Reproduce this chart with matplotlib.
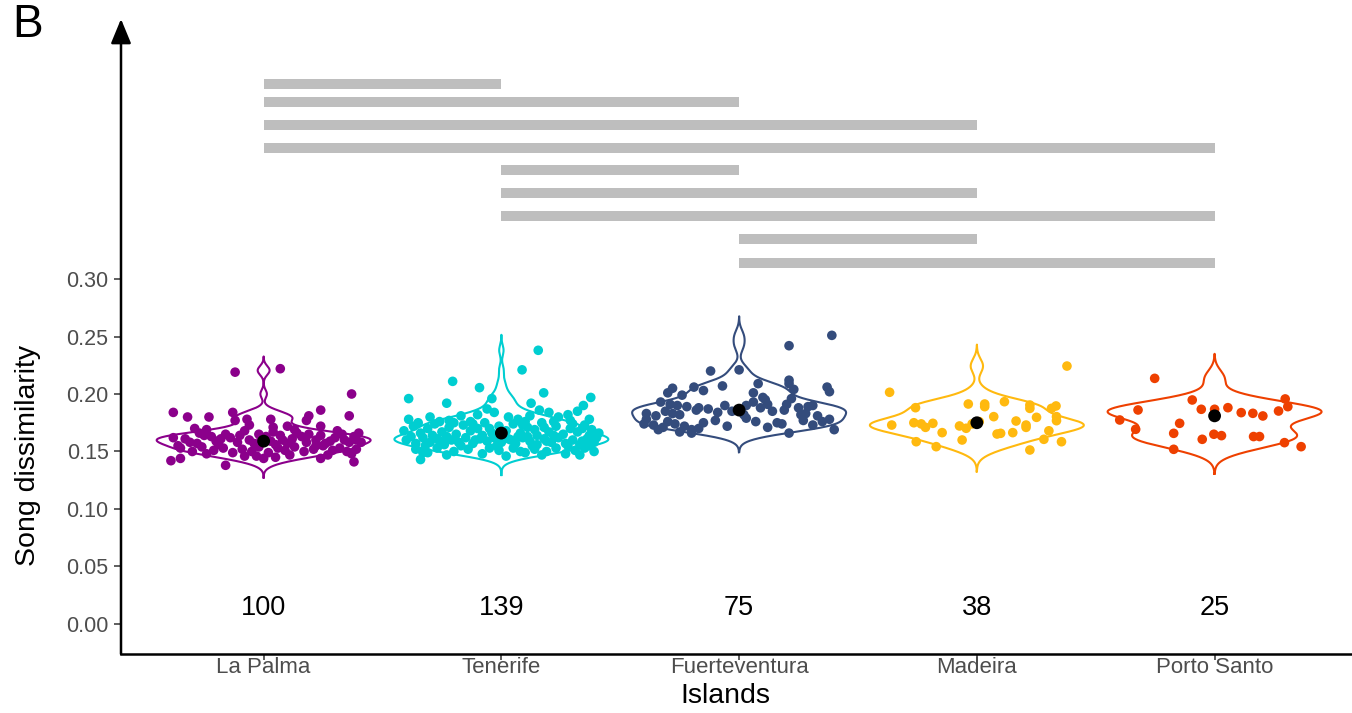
import numpy as np
import matplotlib
matplotlib.use("Agg")
import matplotlib.pyplot as plt

plt.rcParams['font.family'] = ['Liberation Sans', 'DejaVu Sans']

islands = ["La Palma", "Tenerife", "Fuerteventura", "Madeira", "Porto Santo"]
colors = ["#8B008B", "#00CED1", "#344C7C", "#FFB90F", "#EE4000"]
counts = [100, 139, 75, 38, 25]
group_means = [0.159, 0.166, 0.186, 0.175, 0.181]

# each song: (horizontal jitter, song dissimilarity)
la_palma = [
    (-0.12, 0.219), (0.07, 0.222), (0.37, 0.200), (0.36, 0.181), (-0.38, 0.184),
    (-0.32, 0.180), (-0.23, 0.180), (-0.13, 0.184), (0.24, 0.186), (0.19, 0.181),
    (0.18, 0.177), (0.24, 0.172), (-0.07, 0.178), (0.03, 0.178), (0.10, 0.172),
    (-0.12, 0.177), (-0.06, 0.173), (0.04, 0.171), (-0.24, 0.169), (0.40, 0.166),
    (-0.38, 0.162), (-0.33, 0.161), (-0.28, 0.157), (-0.25, 0.164), (-0.22, 0.163),
    (-0.18, 0.161), (-0.14, 0.162), (-0.10, 0.164), (-0.06, 0.160), (-0.02, 0.165),
    (0.01, 0.163), (0.04, 0.167), (0.08, 0.160), (0.12, 0.161), (0.16, 0.163),
    (0.19, 0.165), (0.22, 0.160), (0.26, 0.157), (0.30, 0.162), (0.34, 0.160),
    (0.38, 0.163), (0.41, 0.158), (-0.36, 0.155), (-0.31, 0.158), (-0.27, 0.166),
    (-0.20, 0.159), (-0.16, 0.165), (-0.11, 0.158), (-0.04, 0.157), (0.03, 0.159),
    (0.07, 0.164), (0.10, 0.157), (0.14, 0.166), (0.18, 0.158), (0.24, 0.164),
    (0.28, 0.159), (0.33, 0.165), (0.36, 0.158), (0.39, 0.160), (-0.01, 0.161),
    (-0.35, 0.153), (-0.30, 0.150), (-0.26, 0.154), (-0.21, 0.151), (-0.17, 0.153),
    (-0.13, 0.149), (-0.09, 0.152), (-0.05, 0.150), (-0.02, 0.154), (0.02, 0.149),
    (0.06, 0.153), (0.09, 0.151), (0.13, 0.154), (0.17, 0.150), (0.21, 0.152),
    (0.25, 0.155), (0.29, 0.151), (0.32, 0.153), (0.35, 0.150), (0.39, 0.152),
    (-0.03, 0.146), (0.11, 0.147), (0.27, 0.147), (0.37, 0.148), (-0.24, 0.148),
    (0.00, 0.144), (-0.39, 0.142), (-0.35, 0.144), (-0.16, 0.138), (0.24, 0.144),
    (0.38, 0.141), (0.05, 0.145), (-0.08, 0.146), (-0.29, 0.170), (0.13, 0.169),
    (0.31, 0.168), (-0.08, 0.168), (0.22, 0.155), (-0.19, 0.156), (0.05, 0.156),
]

tenerife = [
    (0.155, 0.238), (0.087, 0.221), (-0.205, 0.211), (-0.092, 0.2055), (-0.39, 0.196),
    (-0.23, 0.192), (0.178, 0.201), (0.376, 0.197), (0.345, 0.190), (-0.34, 0.143),
    (0.125, 0.192), (-0.04, 0.196),
    (-0.39, 0.178), (-0.30, 0.180), (-0.22, 0.177), (-0.17, 0.181), (-0.10, 0.182),
    (-0.06, 0.187), (-0.03, 0.184), (0.03, 0.180), (0.07, 0.178), (0.12, 0.181),
    (0.16, 0.186), (0.20, 0.184), (0.24, 0.180), (0.28, 0.182), (0.32, 0.185),
    (0.37, 0.178), (-0.26, 0.176), (0.10, 0.176), (-0.13, 0.176), (0.29, 0.177),
    (-0.41, 0.168), (-0.37, 0.172), (-0.34, 0.166), (-0.31, 0.170), (-0.28, 0.174),
    (-0.25, 0.167), (-0.22, 0.171), (-0.19, 0.165), (-0.16, 0.173), (-0.13, 0.168),
    (-0.10, 0.170), (-0.07, 0.175), (-0.04, 0.166), (-0.01, 0.172), (0.02, 0.168),
    (0.05, 0.174), (0.08, 0.166), (0.11, 0.171), (0.14, 0.169), (0.17, 0.175),
    (0.20, 0.167), (0.23, 0.172), (0.26, 0.165), (0.29, 0.170), (0.32, 0.167),
    (0.35, 0.173), (0.38, 0.169), (0.41, 0.166), (-0.35, 0.175), (-0.20, 0.175),
    (-0.05, 0.170), (0.09, 0.173), (0.22, 0.176), (0.34, 0.170), (-0.29, 0.164),
    (0.00, 0.164), (0.15, 0.164), (0.30, 0.174), (-0.12, 0.174), (0.18, 0.171),
    (-0.40, 0.160), (-0.36, 0.157), (-0.33, 0.162), (-0.30, 0.158), (-0.27, 0.161),
    (-0.24, 0.156), (-0.21, 0.160), (-0.18, 0.158), (-0.15, 0.162), (-0.12, 0.157),
    (-0.09, 0.161), (-0.06, 0.159), (-0.03, 0.162), (0.00, 0.158), (0.03, 0.161),
    (0.06, 0.157), (0.09, 0.162), (0.12, 0.159), (0.15, 0.156), (0.18, 0.161),
    (0.21, 0.158), (0.24, 0.162), (0.27, 0.157), (0.30, 0.160), (0.33, 0.156),
    (0.36, 0.161), (0.39, 0.158), (-0.38, 0.163), (-0.23, 0.163), (-0.08, 0.164),
    (0.07, 0.163), (0.22, 0.164), (0.37, 0.164), (-0.32, 0.155), (-0.17, 0.155),
    (-0.02, 0.155), (0.13, 0.155), (0.28, 0.155), (0.40, 0.162), (-0.26, 0.159),
    (-0.11, 0.160), (0.04, 0.160), (0.19, 0.159), (0.34, 0.159), (0.11, 0.163),
    (-0.36, 0.152), (-0.31, 0.149), (-0.27, 0.153), (-0.20, 0.150), (-0.14, 0.152),
    (-0.08, 0.148), (-0.01, 0.151), (0.05, 0.153), (0.10, 0.149), (0.14, 0.152),
    (0.19, 0.150), (0.23, 0.153), (0.27, 0.148), (0.31, 0.151), (0.35, 0.153),
    (0.39, 0.150), (-0.23, 0.147), (0.02, 0.146), (0.17, 0.147), (0.33, 0.147),
    (0.37, 0.155), (-0.05, 0.153), (-0.33, 0.149), (0.08, 0.150),
]

fuerteventura = [
    (0.39, 0.251), (0.21, 0.242), (-0.12, 0.220), (0.00, 0.221), (-0.07, 0.207),
    (0.21, 0.212), (0.21, 0.209), (0.37, 0.206), (0.38, 0.202), (-0.19, 0.206),
    (-0.28, 0.205), (-0.24, 0.199), (-0.15, 0.203), (-0.30, 0.201), (-0.33, 0.193),
    (0.08, 0.209), (0.06, 0.201), (0.10, 0.197), (0.23, 0.204), (0.22, 0.196),
    (0.11, 0.195), (0.06, 0.193), (0.03, 0.190), (0.20, 0.191), (0.25, 0.188),
    (0.29, 0.189), (0.31, 0.190), (0.19, 0.186), (-0.06, 0.190), (-0.17, 0.188),
    (-0.13, 0.187), (-0.18, 0.186), (-0.22, 0.189), (-0.26, 0.190), (-0.29, 0.191),
    (-0.31, 0.185), (-0.28, 0.183), (-0.25, 0.182), (-0.39, 0.183), (0.33, 0.181),
    (0.38, 0.178), (0.28, 0.183), (0.26, 0.182), (0.14, 0.185), (0.09, 0.188),
    (0.12, 0.191), (-0.03, 0.185), (-0.09, 0.184), (0.02, 0.182), (-0.35, 0.181),
    (-0.39, 0.178), (-0.40, 0.174), (-0.34, 0.169), (-0.20, 0.169), (-0.20, 0.166),
    (-0.23, 0.172), (-0.10, 0.177), (0.03, 0.179), (0.16, 0.175), (0.18, 0.174),
    (0.21, 0.166), (0.40, 0.169), (-0.30, 0.176), (-0.27, 0.174), (-0.32, 0.171),
    (-0.15, 0.175), (-0.05, 0.172), (0.07, 0.176), (0.12, 0.171), (0.27, 0.177),
    (0.31, 0.173), (0.35, 0.176), (-0.36, 0.173), (-0.25, 0.167), (-0.17, 0.170),
]

madeira = [
    (0.379, 0.2243), (-0.367, 0.2015), (-0.258, 0.1881), (-0.036, 0.1913), (0.033, 0.1913),
    (0.033, 0.1890), (0.116, 0.1933), (0.223, 0.1904), (0.223, 0.1875), (0.314, 0.1875),
    (0.333, 0.1896), (0.335, 0.1803), (0.335, 0.1768), (0.251, 0.1797), (0.071, 0.1803),
    (0.165, 0.1765), (0.207, 0.1730), (0.207, 0.1710), (0.303, 0.1680), (-0.358, 0.1730),
    (-0.265, 0.1750), (-0.234, 0.1740), (-0.216, 0.1710), (-0.185, 0.1745), (-0.146, 0.1664),
    (-0.073, 0.1722), (-0.045, 0.1702), (-0.062, 0.1600), (0.085, 0.1652), (0.100, 0.1658),
    (0.151, 0.1664), (-0.255, 0.1585), (-0.171, 0.1542), (0.282, 0.1606), (0.356, 0.1585),
    (0.223, 0.1513), (0.010, 0.1760), (-0.020, 0.1740),
]

porto_santo = [
    (-0.252, 0.2136), (-0.094, 0.1948), (-0.322, 0.1861), (-0.399, 0.1774), (-0.056, 0.1867),
    (0.000, 0.1867), (0.056, 0.1881), (0.112, 0.1838), (0.161, 0.1832), (0.203, 0.1809),
    (0.269, 0.1852), (0.297, 0.1957), (0.308, 0.1890), (-0.332, 0.1693), (-0.147, 0.1745),
    (-0.172, 0.1658), (-0.052, 0.1606), (-0.003, 0.1650), (0.029, 0.1638), (0.164, 0.1630),
    (0.189, 0.1630), (-0.172, 0.1519), (0.294, 0.1577), (0.364, 0.1542), (0.000, 0.1810),
]

groups = [la_palma, tenerife, fuerteventura, madeira, porto_santo]

# pairwise comparisons drawn as grey bars above the violins
comp_pairs = [(1, 2), (1, 3), (1, 4), (1, 5), (2, 3), (2, 4), (2, 5), (3, 4), (3, 5)]
comp_y = [0.470, 0.4535, 0.434, 0.414, 0.395, 0.375, 0.355, 0.335, 0.314]


def nrd0(v):
    sd = np.std(v, ddof=1)
    q75, q25 = np.percentile(v, [75, 25])
    lo = min(sd, (q75 - q25) / 1.34)
    return 0.9 * lo * len(v) ** -0.2


def violin_outline(v, width=0.9):
    bw = nrd0(v)
    grid = np.linspace(v.min() - 3 * bw, v.max() + 3 * bw, 512)
    dens = np.exp(-0.5 * ((grid[:, None] - v[None, :]) / bw) ** 2).sum(axis=1)
    half = dens / dens.max() * width / 2
    return grid, half


fig = plt.figure(figsize=(13.52, 7.13), dpi=100)
ax = fig.add_axes([121 / 1352, 59 / 713, 1231 / 1352, 635 / 713])

for i, (pts, col) in enumerate(zip(groups, colors)):
    pos = i + 1
    arr = np.array(pts)
    dx, y = arr[:, 0], arr[:, 1]
    grid, half = violin_outline(y)
    ax.plot(np.concatenate([pos - half, (pos + half)[::-1], [pos - half[0]]]),
            np.concatenate([grid, grid[::-1], [grid[0]]]),
            color=col, lw=1.5, zorder=2)
    ax.scatter(pos + dx, y, s=48, color=col, edgecolors='none', zorder=3)
    ax.scatter([pos], [group_means[i]], s=85, color='black', edgecolors='none', zorder=4)
    ax.text(pos, 0.014, str(counts[i]), ha='center', va='center', fontsize=19.5, color='black')

for (a, b), yy in zip(comp_pairs, comp_y):
    ax.plot([a, b], [yy, yy], color='#BEBEBE', lw=7.2, solid_capstyle='butt', zorder=1)

ax.set_xlim(0.4, 5.578)
ax.set_ylim(-0.0261, 0.5261)
ax.set_xticks(range(1, 6))
ax.set_xticklabels(islands)
ax.set_yticks(np.arange(0, 0.301, 0.05))
ax.set_yticklabels([f"{t:.2f}" for t in np.arange(0, 0.301, 0.05)])

for side in ['top', 'right', 'left']:
    ax.spines[side].set_visible(False)
ax.spines['bottom'].set_linewidth(1.8)
ax.spines['bottom'].set_color('black')

# y axis drawn as an arrow
ax.annotate('', xy=(0, 1.0), xytext=(0, 0), xycoords='axes fraction',
            arrowprops=dict(arrowstyle='-|>,head_length=1.5,head_width=0.62',
                            color='black', lw=1.8, shrinkA=0, shrinkB=0),
            annotation_clip=False)

ax.tick_params(axis='y', length=5, width=1.1, color='#333333', pad=4,
               labelsize=15.5, labelcolor='#4D4D4D')
ax.tick_params(axis='x', length=4, width=1.1, color='#333333', pad=-2,
               labelsize=16, labelcolor='#4D4D4D')

ax.set_xlabel("Islands", fontsize=20.5)
ax.xaxis.set_label_coords(0.4907, -0.066)
ax.xaxis.label.set_va('center')
ax.set_ylabel("Song dissimilarity", fontsize=20.5)
ax.yaxis.set_label_coords(-0.0755, 0.312)
ax.yaxis.label.set_va('center')

fig.text(0.009, 0.996, "B", fontsize=33, va='top', ha='left')

fig.savefig("out.png", dpi=100)
